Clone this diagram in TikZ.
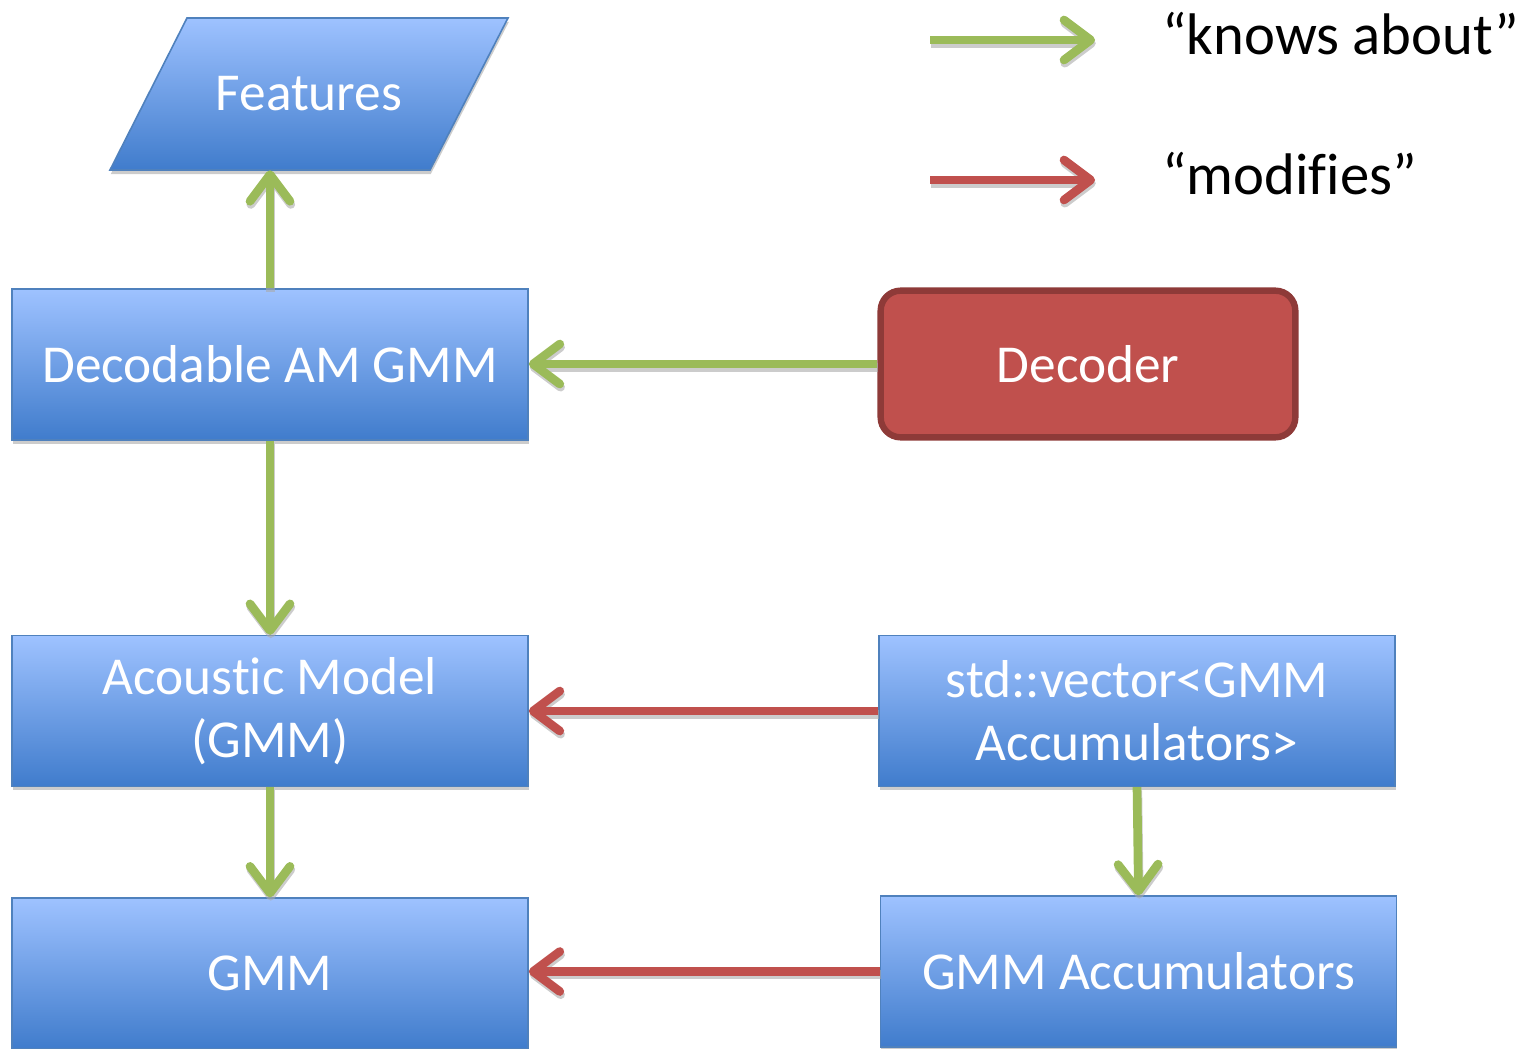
\documentclass[tikz,border=0pt]{standalone}
\usepackage{fontspec}
\setmainfont{Carlito}
\usetikzlibrary{arrows.meta,shadows}
\definecolor{boxtop}{RGB}{158,194,255}
\definecolor{boxbot}{RGB}{64,124,204}
\definecolor{boxedge}{RGB}{79,129,189}
\definecolor{knows}{RGB}{155,187,89}
\definecolor{mods}{RGB}{192,80,77}
\definecolor{decedge}{RGB}{142,58,56}
\definecolor{shade}{RGB}{170,170,170}
% zero-width break that keeps letter pairs from merging into a ligature
\newcommand\nolig{\kern0pt{}}
\begin{document}
\begin{tikzpicture}[x=0.75pt,y=-0.75pt,
  boxshadow/.style={drop shadow={shadow xshift=0.6pt,shadow yshift=-3pt,opacity=0.6,fill=shade}},
  bluebox/.style={draw=boxedge,line width=1.2pt,top color=boxtop,bottom color=boxbot,
    minimum width=387pt,minimum height=113pt,inner sep=0pt,text=white,align=center,
    font=\fontsize{40}{47}\selectfont,boxshadow},
  decbox/.style={draw=decedge,line width=4.8pt,fill=mods,rounded corners=15pt,
    minimum width=311pt,minimum height=110pt,inner sep=0pt,text=white,
    font=\fontsize{40}{47}\selectfont},
  tipshape/.style={-{Straight Barb[length=20pt,width=30pt,line cap=round,line join=round]}},
  linkshadow/.style={draw=shade,opacity=0.6,line width=6.5pt,tipshape},
  knowsarrow/.style={draw=knows,line width=6.5pt,tipshape},
  modsarrow/.style={draw=mods,line width=6.5pt,tipshape},
  legendtext/.style={anchor=west,inner sep=0pt,font=\fontsize{44}{50}\selectfont}]

\useasboundingbox (0,0) rectangle (1524,1049);

% input data: a slanted parallelogram
\path[draw=boxedge,line width=1.2pt,top color=boxtop,bottom color=boxbot,boxshadow]
  (187,18) -- (508,18) -- (430,170) -- (110,170) -- cycle;
\node[minimum height=114pt,inner sep=0pt,text=white,font=\fontsize{40}{47}\selectfont]
  (feat) at (309,94) {Features};

% class boxes
\node[bluebox] (dam) at (270,364.5) {Decodable AM GMM};
\node[decbox] (decoder) at (1088,364) {Decoder};
\node[bluebox] (am) at (270,711) {Acoust\nolig ic Model\\(GMM)};
\node[bluebox] (stdv) at (1137,711) {std::vector<GMM\\Accumulators>};
\node[bluebox] (gmm) at (270,973.5) {GMM};
\node[bluebox] (acc) at (1138.5,971.5) {GMM Accumulators};

% legend anchors
\coordinate (k1) at (930,40);
\coordinate (k2) at (1095,40);
\coordinate (m1) at (930,180);
\coordinate (m2) at (1095,180);

% soft shadows under the relation arrows
\begin{scope}[transform canvas={shift={(0.6pt,-2.4pt)}}]
  \draw[linkshadow] (dam.north) -- (dam.north |- feat.south);
  \draw[linkshadow] (decoder.west) -- (decoder.west -| dam.east);
  \draw[linkshadow] (dam.south) -- (am.north);
  \draw[linkshadow] (am.south) -- (gmm.north);
  \draw[linkshadow] (stdv.west) -- (stdv.west -| am.east);
  \draw[linkshadow] (stdv.south) -- (acc.north);
  \draw[linkshadow] (acc.west) -- (acc.west -| gmm.east);
  \draw[linkshadow] (k1) -- (k2);
  \draw[linkshadow] (m1) -- (m2);
\end{scope}

% relations
\draw[knowsarrow] (dam.north) -- (dam.north |- feat.south);
\draw[knowsarrow] (decoder.west) -- (decoder.west -| dam.east);
\draw[knowsarrow] (dam.south) -- (am.north);
\draw[knowsarrow] (am.south) -- (gmm.north);
\draw[modsarrow] (stdv.west) -- (stdv.west -| am.east);
\draw[knowsarrow] (stdv.south) -- (acc.north);
\draw[modsarrow] (acc.west) -- (acc.west -| gmm.east);

% legend
\draw[knowsarrow] (k1) -- (k2);
\draw[modsarrow] (m1) -- (m2);
\node[legendtext] (kt) at (1162,34) {“knows about”};
\node[legendtext] (mt) at (1162,174) {“modif\nolig ies”};
\end{tikzpicture}
\end{document}
